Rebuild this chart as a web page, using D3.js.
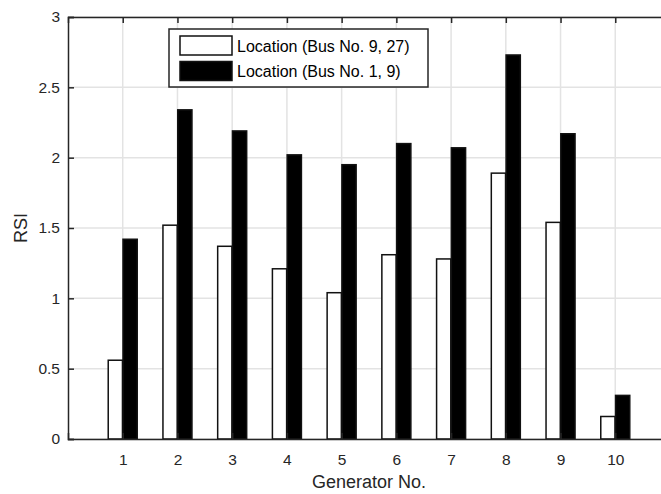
<!DOCTYPE html>
<html>
<head>
<meta charset="utf-8">
<script src="https://cdn.jsdelivr.net/npm/d3@7"></script>
<style>
  body { margin: 0; background: #fff; }
  svg { display: block; font-family: "Liberation Sans", Arial, sans-serif; }
</style>
</head>
<body>
<div id="wrapper"></div>
<script>
const generators = [1, 2, 3, 4, 5, 6, 7, 8, 9, 10]
const rsiBus9_27 = [0.56, 1.52, 1.37, 1.21, 1.04, 1.31, 1.28, 1.89, 1.54, 0.16]
const rsiBus1_9 = [1.42, 2.34, 2.19, 2.02, 1.95, 2.10, 2.07, 2.73, 2.17, 0.31]
const yTicks = [0, 0.5, 1, 1.5, 2, 2.5, 3]
const seriesNames = ["Location (Bus No. 9, 27)", "Location (Bus No. 1, 9)"]

const dimensions = {
  width: 661,
  height: 494,
  margin: { top: 17, right: -9, bottom: 55, left: 68 }
}
dimensions.boundedWidth = dimensions.width - dimensions.margin.left - dimensions.margin.right
dimensions.boundedHeight = dimensions.height - dimensions.margin.top - dimensions.margin.bottom

const axisColor = "#262626"
const gridColor = "#e3e3e3"

const wrapper = d3.select("#wrapper")
  .append("svg")
    .attr("width", dimensions.width)
    .attr("height", dimensions.height)

const bounds = wrapper.append("g")
    .attr("transform", `translate(${dimensions.margin.left},${dimensions.margin.top})`)

const xScale = d3.scaleLinear()
    .domain([0, 11])
    .range([0, dimensions.boundedWidth])

const yScale = d3.scaleLinear()
    .domain([0, 3])
    .range([dimensions.boundedHeight, 0])

// grid
bounds.append("g").selectAll("line")
  .data(generators)
  .enter().append("line")
    .attr("x1", d => xScale(d)).attr("x2", d => xScale(d))
    .attr("y1", 0).attr("y2", dimensions.boundedHeight)
    .attr("stroke", gridColor).attr("stroke-width", 1.5)

bounds.append("g").selectAll("line")
  .data(yTicks)
  .enter().append("line")
    .attr("x1", 0).attr("x2", dimensions.boundedWidth)
    .attr("y1", d => yScale(d)).attr("y2", d => yScale(d))
    .attr("stroke", gridColor).attr("stroke-width", 1.5)

// bars
const offset = 0.135
const barW = xScale(0.26) - xScale(0)

const series = [
  { values: rsiBus9_27, dx: -offset, fill: "#ffffff" },
  { values: rsiBus1_9, dx: offset, fill: "#000000" }
]

series.forEach(s => {
  bounds.append("g").selectAll("rect")
    .data(generators)
    .enter().append("rect")
      .attr("x", (d, i) => xScale(d + s.dx) - barW / 2)
      .attr("y", (d, i) => yScale(s.values[i]))
      .attr("width", barW)
      .attr("height", (d, i) => dimensions.boundedHeight - yScale(s.values[i]))
      .attr("fill", s.fill)
      .attr("stroke", "#111")
      .attr("stroke-width", 1.5)
})

// axes
const xAxis = bounds.append("g")
    .attr("transform", `translate(0,${dimensions.boundedHeight})`)
    .call(d3.axisBottom(xScale).tickValues(generators).tickSize(-6).tickPadding(15))

const xAxisTop = bounds.append("g")
    .call(d3.axisTop(xScale).tickValues(generators).tickSize(-6).tickFormat(""))

const yAxis = bounds.append("g")
    .call(d3.axisLeft(yScale).tickValues(yTicks).tickSize(-6).tickPadding(8)
      .tickFormat(d3.format("")))

;[xAxis, xAxisTop, yAxis].forEach(a => {
  a.select(".domain").attr("stroke", axisColor).attr("stroke-width", 1.5)
  a.selectAll(".tick line").attr("stroke", axisColor).attr("stroke-width", 1.5)
  a.selectAll(".tick text")
    .attr("fill", axisColor)
    .style("font-size", "15.5px")
    .style("font-family", "'Liberation Sans', Arial, sans-serif")
})

xAxis.append("text")
    .attr("x", xScale(5.5))
    .attr("y", 49)
    .attr("fill", axisColor)
    .style("font-size", "18px")
    .style("text-anchor", "middle")
    .text("Generator No.")

yAxis.append("text")
    .attr("transform", "rotate(-90)")
    .attr("x", -dimensions.boundedHeight / 2)
    .attr("y", -41)
    .attr("fill", axisColor)
    .style("font-size", "18px")
    .style("text-anchor", "middle")
    .text("RSI")

// legend
const legend = wrapper.append("g")
    .attr("transform", "translate(169,29)")

legend.append("rect")
    .attr("x", 0).attr("y", 0)
    .attr("width", 259).attr("height", 58)
    .attr("fill", "#fff")
    .attr("stroke", axisColor)
    .attr("stroke-width", 1.5)

const legendItems = legend.selectAll("g.item")
  .data(series)
  .enter().append("g")
    .attr("class", "item")
    .attr("transform", (d, i) => `translate(0,${i * 25.5})`)

legendItems.append("rect")
    .attr("x", 11).attr("y", 7)
    .attr("width", 52).attr("height", 19)
    .attr("fill", d => d.fill)
    .attr("stroke", "#111")
    .attr("stroke-width", 1.5)

legendItems.append("text")
    .attr("x", 68)
    .attr("y", 22.5)
    .attr("fill", "#000")
    .style("font-size", "16px")
    .text((d, i) => seriesNames[i])
</script>
</body>
</html>
